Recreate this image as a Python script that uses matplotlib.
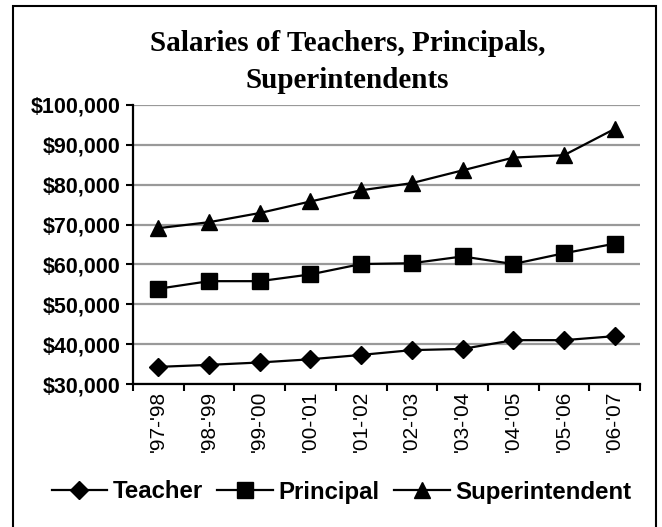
import matplotlib.pyplot as plt
from matplotlib.patches import Rectangle

# Data
years = ["'97-'98", "'98-'99", "'99-'00", "'00-'01", "'01-'02",
         "'02-'03", "'03-'04", "'04-'05", "'05-'06", "'06-'07"]
teacher = [34300, 34800, 35400, 36200, 37300, 38500, 38800, 41000, 41000, 42000]
principal = [53900, 55800, 55800, 57500, 60100, 60300, 62000, 60100, 62800, 65200]
superintendent = [69100, 70600, 72900, 75800, 78600, 80400, 83600, 86800, 87400, 94000]
yticks = [30000, 40000, 50000, 60000, 70000, 80000, 90000, 100000]

plt.rcParams['font.family'] = ['Liberation Sans', 'DejaVu Sans']

fig = plt.figure(figsize=(6.62, 5.27), dpi=100)
ax = fig.add_axes([133/662, 1 - 384/527, (640 - 133)/662, (384 - 105)/527])

x = list(range(len(years)))
ax.plot(x, teacher, color='black', lw=1.6, marker='D', ms=9, label='Teacher')
ax.plot(x, principal, color='black', lw=1.6, marker='s', ms=11, label='Principal')
ax.plot(x, superintendent, color='black', lw=1.6, marker='^', ms=12, label='Superintendent')

ax.set_xlim(-0.5, len(years) - 0.5)
ax.set_ylim(30000, 100000)
ax.set_yticks(yticks)
ax.set_yticklabels(['${:,}'.format(v) for v in yticks], fontsize=15.5, fontweight='bold')
ax.yaxis.grid(True, color='#999999', lw=1.6)
ax.set_axisbelow(True)

# category labels centred, tick marks on the boundaries
ax.set_xticks(x)
ax.set_xticklabels(years, rotation=90, fontsize=15)
ax.set_xticks([i - 0.5 for i in range(len(years) + 1)], minor=True)
ax.tick_params(axis='x', which='major', length=0, pad=5)
ax.tick_params(axis='x', which='minor', length=5, width=1.5, direction='out')
ax.tick_params(axis='y', length=5, width=1.5, direction='out', pad=4)

for side in ['top', 'right']:
    ax.spines[side].set_visible(False)
for side in ['left', 'bottom']:
    ax.spines[side].set_linewidth(1.6)

fig.text(0.525, 1 - 62/527, 'Salaries of Teachers, Principals,\nSuperintendents',
         ha='center', va='center', fontsize=21, fontweight='bold',
         family=['Liberation Serif', 'DejaVu Serif'], linespacing=1.45)

fig.legend(loc='center', bbox_to_anchor=(0.516, 1 - 492/527), ncol=3, frameon=False,
           prop={'weight': 'bold', 'size': 17.3}, handlelength=2.3,
           handletextpad=0.25, columnspacing=0.6, borderaxespad=0)

fig.patches.append(Rectangle((13/662, -0.02), (656 - 13)/662, 1.02 - 6/527,
                             transform=fig.transFigure, fill=False,
                             edgecolor='black', lw=1.5))

fig.savefig('out.png', dpi=100)
